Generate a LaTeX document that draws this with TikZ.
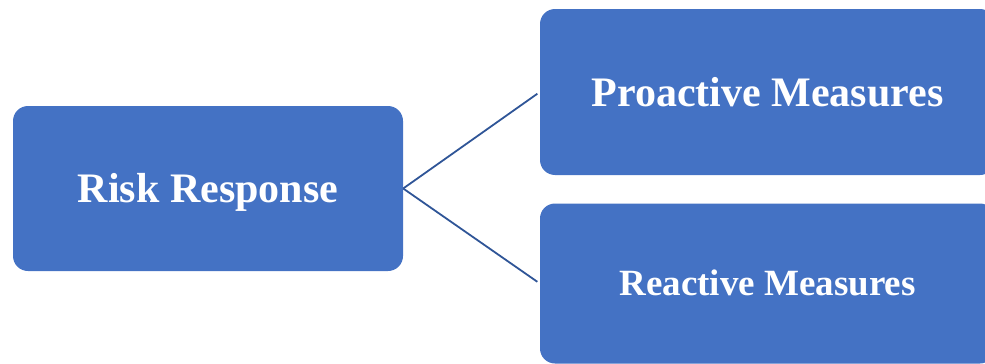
\documentclass[tikz,border=0pt]{standalone}
\usepackage{fontspec}
\setmainfont{Liberation Serif}
\definecolor{boxblue}{HTML}{4472C4}
\definecolor{linkblue}{HTML}{2F5597}
\tikzset{
	riskbox/.style={rectangle,rounded corners=15pt,fill=boxblue,text=white,
		font=\bfseries\fontsize{42}{50}\selectfont,
		text height=28pt,text depth=0pt,inner sep=0pt},
	link/.style={draw=linkblue,line width=1.8pt,shorten >=3pt}
}
\begin{document}
\begin{tikzpicture}[x=1pt,y=-1pt]
	\useasboundingbox (0,0) rectangle (985,364);
	\node[riskbox,minimum width=390pt,minimum height=165pt] (risk) at (208,188.5) {Risk Response};
	\node[riskbox,minimum width=455pt,minimum height=166pt] (proactive) at (767.5,92) {Proactive Measures};
	\node[riskbox,minimum width=455pt,minimum height=160pt,text height=24.5pt,
		font=\bfseries\fontsize{37}{44}\selectfont] (reactive) at (767.5,283.5) {Reactive Measures};
	\draw[link] (risk.east) -- (proactive.west);
	\draw[link] (risk.east) -- (reactive.west);
\end{tikzpicture}
\end{document}
